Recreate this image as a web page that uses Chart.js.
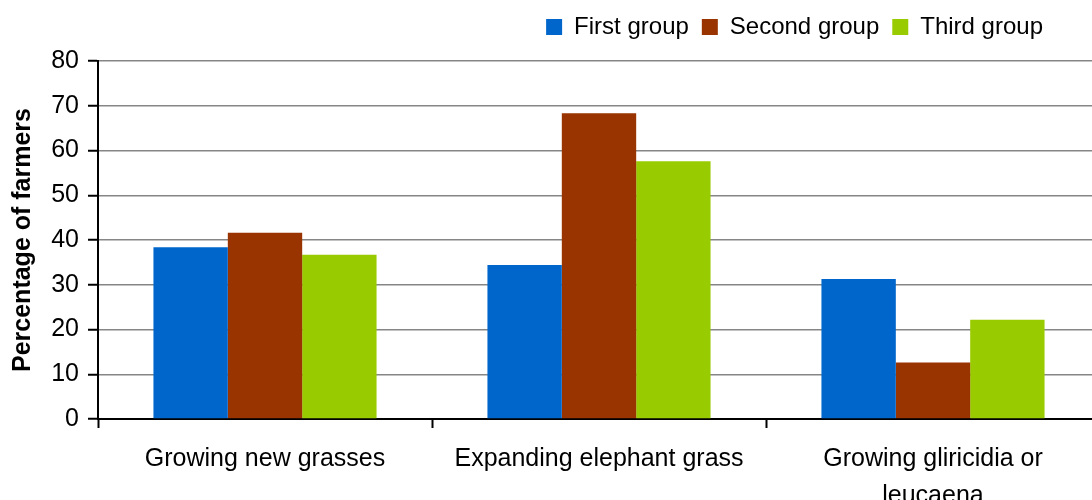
<!DOCTYPE html>
<html>
<head>
<meta charset="utf-8">
<script src="https://cdn.jsdelivr.net/npm/chart.js@4"></script>
<style>
  html, body { margin: 0; padding: 0; background: #fff; overflow: hidden; }
  /* the original plot runs a little past the right edge of the picture */
  #wrap { width: 1100px; height: 500px; position: relative; }
</style>
</head>
<body>
<div id="wrap"><canvas id="myChart"></canvas></div>
<script>
// categories and series
const categories = [
  "Growing new grasses",
  "Expanding elephant grass",
  ["Growing gliricidia or", "leucaena"]
];
const firstGroup = [38.4, 34.4, 31.3];
const secondGroup = [41.6, 68.3, 12.6];
const thirdGroup = [36.7, 57.6, 22.2];
const yTicks = [0, 10, 20, 30, 40, 50, 60, 70, 80];

const fontFamily = "'Liberation Sans', Arial, sans-serif";

// move the legend up and in from the right edge, like the original
const legendTweak = {
  id: "legendTweak",
  afterLayout(chart) {
    const lg = chart.legend;
    lg.top -= 12;
    lg.bottom -= 12;
    lg.right = chart.width - 44;
  }
};

const ctx = document.getElementById("myChart").getContext("2d");
new Chart(ctx, {
  type: "bar",
  data: {
    labels: categories,
    datasets: [
      { label: "First group", data: firstGroup, backgroundColor: "#0066CC" },
      { label: "Second group", data: secondGroup, backgroundColor: "#993300" },
      { label: "Third group", data: thirdGroup, backgroundColor: "#99CC00" }
    ]
  },
  options: {
    responsive: true,
    maintainAspectRatio: false,
    animation: false,
    layout: { padding: { left: 0, top: 14, bottom: 0, right: 0 } },
    datasets: {
      bar: { categoryPercentage: 0.668, barPercentage: 1.0 }
    },
    plugins: {
      tooltip: { enabled: false },
      legend: {
        position: "top",
        align: "end",
        labels: {
          boxWidth: 16,
          boxHeight: 16,
          padding: 13,
          color: "#000",
          font: { family: fontFamily, size: 24 }
        }
      }
    },
    scales: {
      x: {
        grid: {
          drawOnChartArea: false,
          drawTicks: true,
          tickLength: 9,
          tickColor: "#000",
          tickWidth: 2
        },
        border: { display: true, color: "#000", width: 2 },
        ticks: {
          color: "#000",
          padding: 12,
          maxRotation: 0,
          font: { family: fontFamily, size: 25, lineHeight: 1.5 }
        },
        afterFit(scale) {
          scale.height = 81;
        }
      },
      y: {
        min: 0,
        max: 80,
        afterBuildTicks(scale) {
          scale.ticks = yTicks.map(v => ({ value: v }));
        },
        grid: {
          color: "#868686",
          lineWidth: 1.5,
          tickLength: 10,
          tickColor: "#000",
          tickWidth: 2
        },
        border: { display: true, color: "#000", width: 2 },
        ticks: {
          color: "#000",
          padding: 9,
          font: { family: fontFamily, size: 25, lineHeight: 1.0 }
        },
        title: {
          display: true,
          text: "Percentage of farmers",
          color: "#000",
          padding: { top: 8, bottom: 0 },
          font: { family: fontFamily, size: 25, weight: "bold" }
        },
        afterFit(scale) {
          scale.width = 98;
        }
      }
    }
  },
  plugins: [legendTweak]
});
</script>
</body>
</html>
